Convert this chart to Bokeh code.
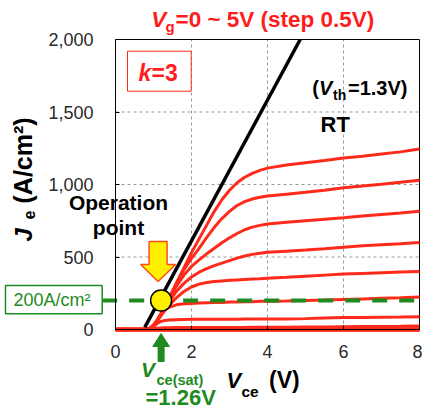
import math
from bokeh.plotting import figure
from bokeh.models import Range1d, Label, NumeralTickFormatter
from bokeh.embed import file_html
from bokeh.resources import INLINE

# ---------------- data ----------------
V_GRID = [0, 0.8, 0.9, 1.0, 1.1, 1.2, 1.3, 1.4, 1.6, 1.8, 2.0, 2.2, 2.4, 2.6, 2.8,
          3.0, 3.2, 3.4, 3.6, 3.8, 4.0, 4.5, 5.0, 5.5, 6.0, 6.5, 7.0, 7.5, 8.0]

J_VG00 = [0] * 29
J_VG05 = [0] * 29
J_VG10 = [0] * 29
J_VG15 = [0, 0, 2, 6, 9, 11, 12, 12, 13, 13, 13, 13, 14, 14, 14, 14, 14, 14, 15, 15,
          15, 16, 17, 18, 19, 20, 21, 22, 24]
J_VG20 = [0, 0, 5, 20, 42, 56, 62, 65, 68, 69, 70, 70, 70, 71, 71, 71, 71, 72, 72, 72,
          72, 73, 75, 80, 82, 83, 85, 86, 88]
J_VG25 = [0, 0, 6, 24, 62, 105, 135, 152, 170, 177, 180, 182, 184, 186, 187, 189, 190,
          191, 192, 194, 195, 197, 200, 203, 207, 211, 215, 219, 224]
J_VG30 = [0, 0, 7, 27, 58, 96, 132, 165, 218, 262, 293, 313, 324, 331, 335, 339, 342,
          345, 348, 350, 353, 360, 368, 375, 382, 387, 392, 396, 400]
J_VG35 = [0, 0, 8, 29, 62, 104, 148, 190, 262, 318, 362, 395, 420, 440, 458, 475, 492,
          507, 518, 526, 532, 540, 548, 557, 568, 577, 585, 592, 600]
J_VG40 = [0, 0, 8, 30, 64, 108, 155, 203, 298, 375, 435, 480, 522, 560, 598, 632, 662,
          688, 706, 718, 727, 740, 750, 760, 770, 782, 793, 803, 815]
J_VG45 = [0, 0, 8, 30, 65, 110, 158, 208, 315, 412, 490, 560, 635, 705, 765, 815, 855,
          882, 900, 912, 920, 933, 946, 960, 977, 990, 1002, 1015, 1030]
J_VG50 = [0, 0, 8, 30, 65, 110, 158, 210, 320, 425, 530, 625, 720, 815, 895, 960, 1012,
          1050, 1077, 1097, 1113, 1135, 1150, 1165, 1182, 1195, 1210, 1225, 1245]

ZERO_CURVES = [J_VG00, J_VG05, J_VG10]
ON_CURVES = [J_VG15, J_VG20, J_VG25, J_VG30, J_VG35, J_VG40, J_VG45, J_VG50]

BLACK_V = [0.77, 4.86]
BLACK_J = [15, 2000]

OP_V = 1.2      # operation point (Vce(sat))
OP_J = 200      # A/cm2

X_TICKS = [0, 2, 4, 6, 8]
Y_TICKS = [0, 500, 1000, 1500, 2000]
X_GRID = [2, 4, 6]
Y_GRID = [500, 1000, 1500]

# ---------------- styling / layout ----------------
FONT = "Liberation Sans"
RED = "#ff2a1a"
TRED = "#ff1c1c"
GREEN = "#1f8a1f"
YELLOW = "#fff000"

W, H = 422, 410                 # canvas
FX0, FY0, FW, FH = 115, 39, 304, 290   # plot box on the canvas (px)
XA, XB = X_TICKS[0], X_TICKS[-1]
YA, YB = Y_TICKS[0], Y_TICKS[-1]
SX = FW / (XB - XA)
SY = FH / (YB - YA)
MID = 0.35      # label anchor sits this many ems above the glyph baseline


def dx(px):
    return XA + (px - FX0) / SX


def dy(py):
    return YA + (FY0 + FH - py) / SY


def pxv(v):
    return FX0 + (v - XA) * SX


def pyj(j):
    return FY0 + FH - (j - YA) * SY


p = figure(frame_width=W, frame_height=H,
           x_range=Range1d(dx(0), dx(W)), y_range=Range1d(dy(H), dy(0)),
           output_backend="svg", toolbar_location=None,
           min_border=0, min_border_left=0, min_border_right=0,
           min_border_top=0, min_border_bottom=0)

p.outline_line_color = None
p.xgrid.visible = False
p.ygrid.visible = False

for ax in (p.xaxis, p.yaxis):
    ax.major_label_text_font = FONT
    ax.major_label_text_font_size = "18px"
    ax.major_label_text_color = "#2a2a2a"
    ax.axis_line_color = "black"
    ax.axis_line_width = 1
    ax.major_tick_in = 4
    ax.major_tick_out = 0
    ax.minor_tick_line_color = None
    ax.major_tick_line_color = "black"

p.xaxis.ticker = X_TICKS
p.yaxis.ticker = Y_TICKS
p.yaxis.formatter = NumeralTickFormatter(format="0,0")
p.xaxis.fixed_location = YA
p.yaxis.fixed_location = XA
p.xaxis.bounds = (XA, XB)
p.yaxis.bounds = (YA, YB)
p.xaxis.major_label_standoff = 15
p.yaxis.major_label_standoff = 22

# grid lines
p.segment(x0=X_GRID, y0=[YA] * len(X_GRID), x1=X_GRID, y1=[YB] * len(X_GRID),
          line_color="#9a9a9a", line_dash="3 3", line_width=1)
p.segment(x0=[XA] * len(Y_GRID), y0=Y_GRID, x1=[XB] * len(Y_GRID), y1=Y_GRID,
          line_color="#9a9a9a", line_dash="3 3", line_width=1)
# plot box top / right
p.line([XA, XB, XB], [YB, YB, YA], line_color="black", line_width=1)

# curves
for J in ZERO_CURVES:
    p.line(V_GRID, J, line_color=RED, line_width=4)
for J in ON_CURVES:
    p.line(V_GRID, J, line_color=RED, line_width=3)

# black load line
p.line(BLACK_V, BLACK_J, line_color="black", line_width=3.5)

# 200A/cm2 box
p.quad(left=dx(5), right=dx(101.7), top=dy(285), bottom=dy(313.3),
       fill_color="white", line_color=GREEN, line_width=1.5)

# green dashed 200 A/cm2 line
p.line([dx(101.7), XB], [OP_J, OP_J], line_color=GREEN, line_width=4,
       line_dash="15 12")

# yellow down arrow above operation point
cx = pxv(OP_V) - 3
cy = pyj(OP_J)
sh, hh = 9, 17.5
top, base, tip = cy - 59, cy - 36, cy - 19
ax_px = [cx - sh, cx + sh, cx + sh, cx + hh, cx, cx - hh, cx - sh]
ay_px = [top, top, base, base, tip, base, base]
p.patch([dx(v) for v in ax_px], [dy(v) for v in ay_px], fill_color=YELLOW,
        line_color="#ff4d1a", line_width=1.5)

# operation point circle
p.scatter([OP_V], [OP_J], size=21, fill_color=YELLOW, line_color="black", line_width=1.5)

# green up arrow under the x axis
gx = pxv(OP_V)
gxs = [gx - 3, gx + 3, gx + 3, gx + 8.3, gx, gx - 8.3, gx - 3]
gys = [361, 361, 346, 346, 333, 346, 346]
p.patch([dx(v) for v in gxs], [dy(v) for v in gys], fill_color=GREEN,
        line_color=GREEN, line_width=1)

# k=3 box
p.quad(left=dx(127), right=dx(190.7), top=dy(50.7), bottom=dy(90.7),
       fill_color=None, line_color=RED, line_width=1)


def txt(text, px, py, size, color="black", style="bold", align="left", rotated=False):
    """px, py: left end of the text and its glyph baseline, on the canvas."""
    if rotated:
        ax_, ay_, ang = px - MID * size, py, math.pi / 2
    else:
        ax_, ay_, ang = px, py - MID * size, 0.0
    p.add_layout(Label(x=dx(ax_), y=dy(ay_), text=text, text_font=FONT,
                       text_font_size=f"{size}px", text_font_style=style,
                       text_color=color, text_align=align,
                       text_baseline="alphabetic", angle=ang, angle_units="rad"))


# title
txt("V", 150.7, 26.7, 22.5, TRED, "bold italic")
txt("g", 165, 31, 15, TRED)
txt("=0 ~ 5V (step 0.5V)", 175, 26.7, 22.5, TRED)

# k=3
txt("k", 138, 81, 23, TRED, "bold italic")
txt("=3", 151, 81, 23, TRED)

# (Vth=1.3V)
txt("(", 311.7, 94.5, 20)
txt("V", 318.5, 94.5, 20, style="bold italic")
txt("th", 332.5, 99, 14)
txt("=1.3V)", 347.5, 94.5, 20)
txt("RT", 320, 131.5, 22)

# Operation point
txt("Operation", 118, 209.5, 21, align="center")
txt("point", 118, 234.5, 21, align="center")

# y axis label (rotated)
txt("J", 31.5, 241, 24, style="bold italic", rotated=True)
txt("e", 34, 219, 16, rotated=True)
txt("(A/cm\u00b2)", 31.5, 203, 25, rotated=True)

# x axis label
txt("V", 226, 388, 22, style="bold italic")
txt("ce", 241, 396.5, 15.5)
txt("(V)", 268.5, 388, 23)

# Vce(sat) annotation
txt("V", 140.5, 376.5, 21, GREEN, "bold italic")
txt("ce(sat)", 156, 385, 14.5, GREEN)
txt("=1.26V", 145, 405, 22, GREEN)

# 200A/cm2 text
txt("200A/cm\u00b2", 13, 306, 18, GREEN, "normal")

open("out.html", "w").write(file_html(p, INLINE))
